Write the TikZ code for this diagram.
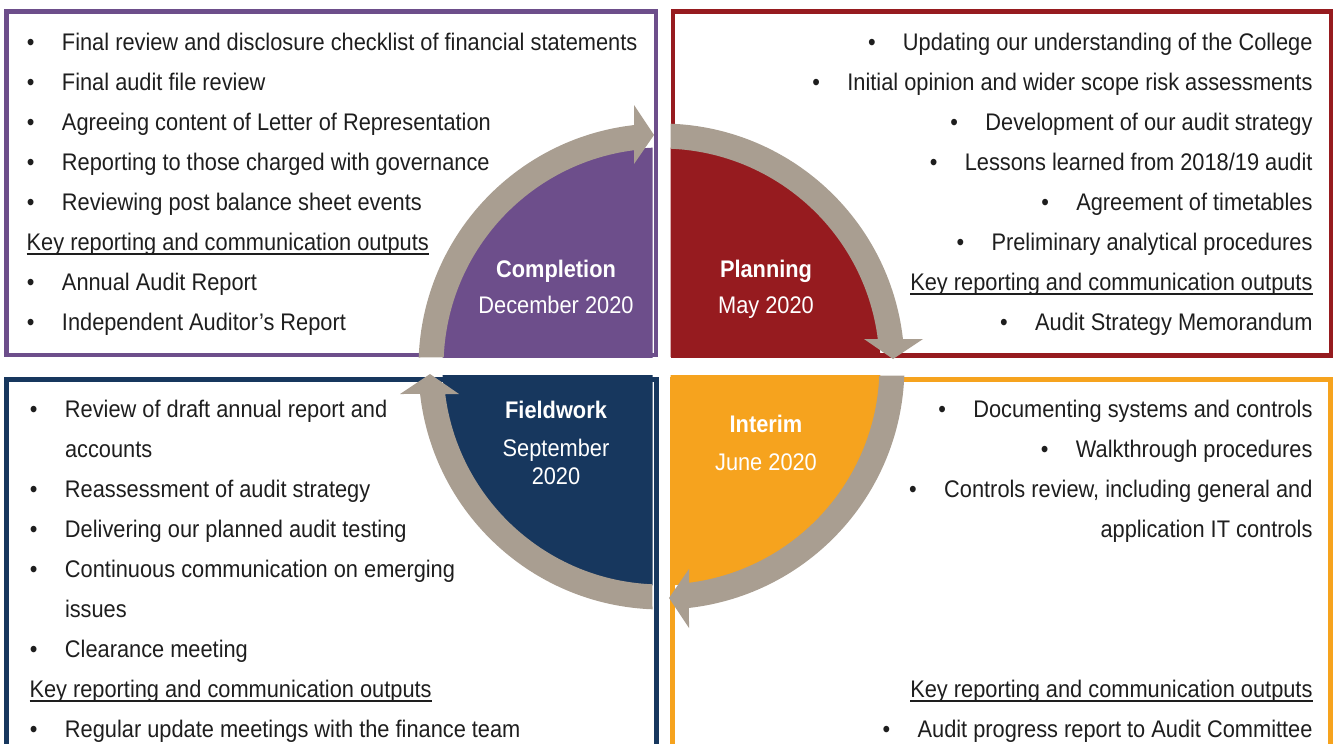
\documentclass[tikz,border=0pt]{standalone}
\usepackage{fontspec}
\setmainfont{Liberation Sans}[FakeStretch=0.908]
\usetikzlibrary{calc}
\definecolor{cpurple}{HTML}{6D4E8B}
\definecolor{cred}{HTML}{961B1F}
\definecolor{cnavy}{HTML}{17375E}
\definecolor{corange}{HTML}{F6A31E}
\definecolor{cring}{HTML}{A99E91}
\definecolor{ctext}{HTML}{1E1E1E}
\newcommand\mybul{\makebox[35pt][l]{•}}
\begin{document}
\begin{tikzpicture}[x=1pt,y=-1pt,
  every node/.style={inner sep=0pt, outer sep=0pt, font=\fontsize{24}{40}\selectfont, text=ctext},
  bl/.style={anchor=base west},
  br/.style={anchor=base east},
  lab/.style={anchor=base, text=white},
  labb/.style={anchor=base, text=white, font=\fontsize{24}{40}\selectfont\bfseries},
  bordr/.style={line width=4.6pt},
  uline/.style={line width=1.8pt, draw=ctext},
  ringpart/.style={fill=cring}]
\useasboundingbox (0,0) rectangle (1334,744);
\clip (0,0) rectangle (1334,744);
% box borders
\draw[bordr, draw=cpurple] (6.3,11.7) rectangle (656,354.8);
\draw[bordr, draw=cred] (672.8,11.7) rectangle (1331,355.5);
\draw[bordr, draw=cnavy] (6.3,379.3) rectangle (656.5,790);
\draw[bordr, draw=corange] (672.5,379.3) rectangle (1330.7,790);
% quadrants
\coordinate (C) at (661.5,366.5);
\begin{scope}\clip (0,0) rectangle (652.5,357); \fill[cpurple] (C) circle[radius=219]; \end{scope}
\begin{scope}\clip (670.5,0) rectangle (1334,356.5); \fill[cred] (C) circle[radius=219]; \end{scope}
\begin{scope}\clip (0,375.5) rectangle (652.5,744); \fill[cnavy] (C) circle[radius=219]; \end{scope}
\begin{scope}\clip (670.5,375.5) rectangle (1334,744); \fill[corange] (C) circle[radius=219]; \end{scope}
% ring arrows
\foreach \r in {0,-90,-180,-270}{
  \fill[ringpart, rotate around={\r:(C)}] (418.7,357.5) arc[start angle=182.12, end angle=263.5, radius=243]
    -- (634,105) -- (654,135) -- (634,164) -- (634,150.2)
    arc[start angle=262.75, end angle=182.37, radius=218] -- cycle;
}
% centre labels
\node[labb] (cT) at (556,277.7) {Completion};
\node[lab] (cD) at (556,313.8) {December 2020};
\node[labb] (pT) at (766,277.7) {Planning};
\node[lab] (pD) at (766,313.8) {May 2020};
\node[labb] (fT) at (556,418.9) {Fieldwork};
\node[lab] (fD) at (556,456.7) {September};
\node[lab] (fY) at (556,484.3) {2020};
\node[labb] (iT) at (766,432.6) {Interim};
\node[lab] (iD) at (766,470.5) {June 2020};
% top-left text
\node[bl] (tl1) at (27,50.7) {\mybul Final review and disclosure checklist of financial statements};
\node[bl] (tl2) at (27,90.7) {\mybul Final audit file review};
\node[bl] (tl3) at (27,130.7) {\mybul Agreeing content of Letter of Representation};
\node[bl] (tl4) at (27,170.7) {\mybul Reporting to those charged with governance};
\node[bl] (tl5) at (27,210.7) {\mybul Reviewing post balance sheet events};
\node[bl] (tlk) at (26.7,250.7) {Key reporting and communication outputs};
\draw[uline] ([yshift=-3pt]tlk.base west) -- ([yshift=-3pt]tlk.base east);
\node[bl] (tl6) at (27,290.7) {\mybul Annual Audit Report};
\node[bl] (tl7) at (27,330.7) {\mybul Independent Auditor’s Report};
% top-right text
\node[br] (tr1) at (1312.5,50.7) {\mybul Updating our understanding of the College};
\node[br] (tr2) at (1312.5,90.7) {\mybul Initial opinion and wider scope risk assessments};
\node[br] (tr3) at (1312.5,130.7) {\mybul Development of our audit strategy};
\node[br] (tr4) at (1312.5,170.7) {\mybul Lessons learned from 2018/19 audit};
\node[br] (tr5) at (1312.5,210.7) {\mybul Agreement of timetables};
\node[br] (tr6) at (1312.5,250.7) {\mybul Preliminary analytical procedures};
\node[br] (trk) at (1312.5,290.7) {Key reporting and communication outputs};
\draw[uline] ([yshift=-3pt]trk.base west) -- ([yshift=-3pt]trk.base east);
\node[br] (tr7) at (1312.5,330.7) {\mybul Audit Strategy Memorandum};
% bottom-left text
\node[bl] (bl1) at (30,417.7) {\mybul Review of draft annual report and};
\node[bl] (bl1b) at (65,457.7) {accounts};
\node[bl] (bl2) at (30,497.7) {\mybul Reassessment of audit strategy};
\node[bl] (bl3) at (30,537.7) {\mybul Delivering our planned audit testing};
\node[bl] (bl4) at (30,577.7) {\mybul Continuous communication on emerging};
\node[bl] (bl4b) at (65,617.7) {issues};
\node[bl] (bl5) at (30,657.7) {\mybul Clearance meeting};
\node[bl] (blk) at (29.5,697.7) {Key reporting and communication outputs};
\draw[uline] ([yshift=-3pt]blk.base west) -- ([yshift=-3pt]blk.base east);
\node[bl] (bl6) at (30,737.7) {\mybul Regular update meetings with the finance team};
% bottom-right text
\node[br] (br1) at (1312.5,417.7) {\mybul Documenting systems and controls};
\node[br] (br2) at (1312.5,457.7) {\mybul Walkthrough procedures};
\node[br] (br3) at (1312.5,497.7) {\mybul Controls review, including general and};
\node[br] (br3b) at (1312.5,537.7) {application IT controls};
\node[br] (brk) at (1312.5,697.7) {Key reporting and communication outputs};
\draw[uline] ([yshift=-3pt]brk.base west) -- ([yshift=-3pt]brk.base east);
\node[br] (br4) at (1312.5,737.7) {\mybul Audit progress report to Audit Committee};
\end{tikzpicture}
\end{document}
